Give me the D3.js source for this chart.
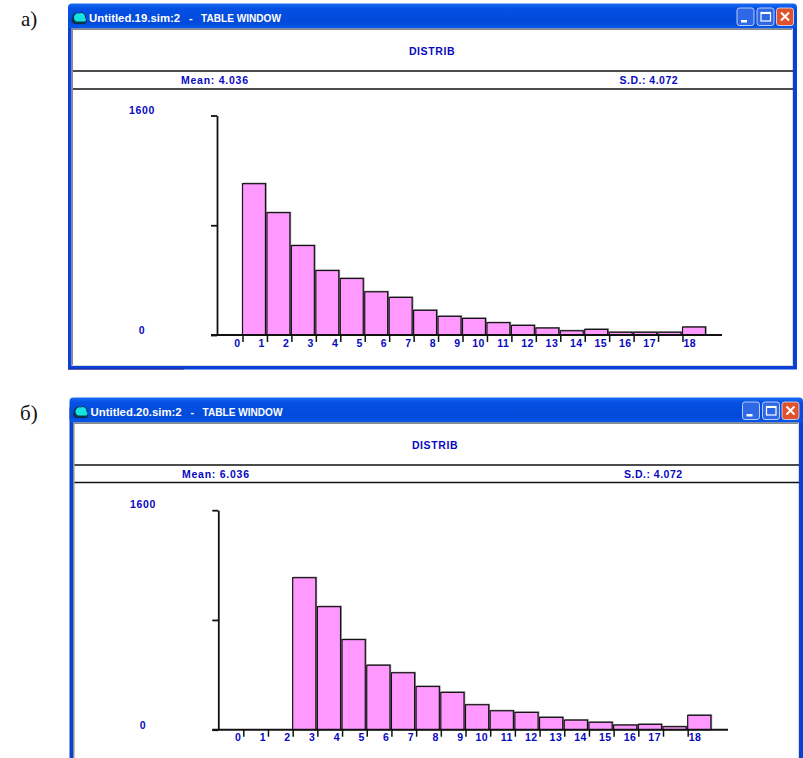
<!DOCTYPE html>
<html>
<head>
<meta charset="utf-8">
<script src="https://d3js.org/d3.v7.min.js"></script>
<style>
html, body { margin: 0; padding: 0; background: #fff; }
svg { display: block; }
</style>
</head>
<body>
<svg id="chart" width="803" height="758"></svg>
<script>
const categories = d3.range(0, 19);
const y_ticks = [0, 800, 1600];
const y_labels = [0, 1600];
const distrib_a = [1103, 892, 652, 470, 412, 315, 274, 180, 136, 121, 90, 70, 51, 31, 41, 20, 20, 20, 58];
const distrib_b = [0, 0, 1108, 897, 657, 470, 415, 315, 272, 182, 138, 126, 90, 70, 54, 34, 39, 22, 105];

const BLUE_TEXT = "#0808c0";
const svg = d3.select("#chart");

let grad = svg.append("defs").append("linearGradient").attr("id", "titlebar").attr("x1", 0).attr("x2", 0).attr("y1", 0).attr("y2", 1);
grad.append("stop").attr("offset", "0%").attr("stop-color", "#1a6cf2");
grad.append("stop").attr("offset", "20%").attr("stop-color", "#0451e4");
grad.append("stop").attr("offset", "75%").attr("stop-color", "#0349da");
grad.append("stop").attr("offset", "100%").attr("stop-color", "#0558ea");

function blue_text(g, x, y, str, anchor, spacing) {
    return g.append("text").attr("x", x).attr("y", y)
        .attr("text-anchor", anchor)
        .attr("font-family", "Liberation Sans").attr("font-weight", "bold").attr("font-size", 10.5)
        .attr("letter-spacing", spacing).attr("fill", BLUE_TEXT).text(str);
}

function draw_window(p) {
    let g = svg.append("g");
    let w = p.right - p.left;

    // window frame and title bar
    g.append("rect").attr("x", p.left).attr("y", p.top + 10).attr("width", w).attr("height", p.bottom - p.top - 6)
        .attr("fill", "#0a3fd8");
    g.append("rect").attr("x", p.left).attr("y", p.top).attr("width", w).attr("height", 25)
        .attr("rx", 4).attr("fill", "url(#titlebar)");
    g.append("rect").attr("x", p.left + 3.5).attr("y", p.top + 25).attr("width", w - 7.5).attr("height", p.bottom - p.top - 24.5)
        .attr("fill", "#dcdcdc");
    g.append("rect").attr("x", p.left + 3.5).attr("y", p.top + 25).attr("width", w - 8.5).attr("height", p.bottom - p.top - 25.5)
        .attr("fill", "#8a8a8a");
    g.append("rect").attr("x", p.left + 5).attr("y", p.top + 26.5).attr("width", w - 10).attr("height", p.bottom - p.top - 27)
        .attr("fill", "#fff");

    // cloud icon
    let cx = p.left + 11;
    let cy = p.top + 15;
    g.append("path")
        .attr("d", `M${cx - 5},${cy + 5}a4,4 0 0 1 -1,-6a4,4 0 0 1 6,-4a4,4 0 0 1 6,5a3,3 0 0 1 0,5z`)
        .attr("fill", "#0a3a48").attr("stroke", "#062a40").attr("stroke-width", 0.8);
    g.append("path")
        .attr("d", `M${cx - 2},${cy + 3}a4,4 0 0 1 -3,-4a4,4 0 0 1 5,-4a4,4 0 0 1 6,4a3,3 0 0 1 0,4z`)
        .attr("fill", "#16e4e4");

    // title, file name runs wider than the rest in the original font
    let title = g.append("text").attr("x", p.left + 21).attr("y", p.top + 18.5)
        .attr("font-family", "Liberation Sans").attr("font-weight", "bold").attr("fill", "#fff").style("white-space", "pre");
    title.append("tspan").attr("font-size", 11.4).text(p.title);
    title.append("tspan").attr("font-size", 11).attr("x", p.left + 121).text("-");
    title.append("tspan").attr("font-size", 10.1).attr("x", p.left + 133).text("TABLE WINDOW");

    // window buttons
    let buttons = [
        {x: p.buttons_x, fill: "#2f68e6", mark: "min"},
        {x: p.buttons_x + 20, fill: "#2f68e6", mark: "max"},
        {x: p.buttons_x + 39.5, fill: "#e0512c", mark: "close"}
    ];
    buttons.forEach(b => {
        let y0 = p.top + 4.5;
        g.append("rect").attr("x", b.x).attr("y", y0).attr("width", 17).attr("height", 17.5).attr("rx", 2.5)
            .attr("fill", b.fill).attr("stroke", "#dfe8fb").attr("stroke-width", 0.8);
        if (b.mark == "min") {
            g.append("rect").attr("x", b.x + 4).attr("y", y0 + 12).attr("width", 6).attr("height", 2.5).attr("fill", "#fff");
        } else if (b.mark == "max") {
            g.append("rect").attr("x", b.x + 4).attr("y", y0 + 4.5).attr("width", 9.5).attr("height", 8.5)
                .attr("fill", "none").attr("stroke", "#fff").attr("stroke-width", 1.2);
            g.append("rect").attr("x", b.x + 4).attr("y", y0 + 4).attr("width", 9.5).attr("height", 2).attr("fill", "#fff");
        } else {
            g.append("path").attr("d", `M${b.x + 4.5},${y0 + 4.5}L${b.x + 12.5},${y0 + 12.5}M${b.x + 12.5},${y0 + 4.5}L${b.x + 4.5},${y0 + 12.5}`)
                .attr("stroke", "#fff").attr("stroke-width", 2);
        }
    });

    // header
    blue_text(g, p.title_x, p.line1 - 16, "DISTRIB", "middle", 0.6);
    [p.line1, p.line2].forEach(y => {
        g.append("line").attr("x1", p.left + 5).attr("x2", p.right - 4).attr("y1", y).attr("y2", y)
            .attr("stroke", "#111").attr("stroke-width", 1.5);
    });
    blue_text(g, p.mean_x, p.line1 + 12.5, p.mean, "start", 0.75);
    blue_text(g, p.sd_x, p.line1 + 12.5, p.sd, "start", 0.5);

    // scales
    let x = d3.scaleLinear().domain([0, 18]).range([p.x0, p.x18]);
    let y = d3.scaleLinear().domain([0, 1600]).range([p.base, p.base - 219.5]);
    let bar_w = x(1) - x(0) - 1.5;

    // bars
    let rows = categories.map((c, i) => ({c: c, v: p.values[i]})).filter(d => d.v > 0);
    g.selectAll("rect.shade").data(rows).enter().append("rect").attr("class", "shade")
        .attr("x", d => x(d.c) + 0.5).attr("y", d => y(d.v) - 1)
        .attr("width", bar_w + 0.8).attr("height", d => p.base - y(d.v) + 1)
        .attr("fill", "#8c8c8c");
    g.selectAll("rect.bar").data(rows).enter().append("rect").attr("class", "bar")
        .attr("x", d => x(d.c)).attr("y", d => y(d.v))
        .attr("width", bar_w).attr("height", d => p.base - y(d.v))
        .attr("fill", "#ff99ff").attr("stroke", "#141414").attr("stroke-width", 1.2);

    // axes
    let y_axis = d3.axisLeft(y).tickValues(y_ticks).tickSize(6).tickSizeOuter(0).tickFormat("");
    let ay = g.append("g").attr("transform", `translate(${p.y_axis_x},0)`).call(y_axis);
    ay.selectAll("line,path").attr("stroke", "#111").attr("stroke-width", 1.8);

    g.append("line").attr("x1", p.y_axis_x - 6).attr("x2", p.axis_end).attr("y1", p.base).attr("y2", p.base)
        .attr("stroke", "#111").attr("stroke-width", 2);

    let x_axis = d3.axisBottom(x).tickValues(categories).tickSize(7).tickSizeOuter(0).tickFormat("");
    let ax = g.append("g").attr("transform", `translate(0,${p.base})`).call(x_axis);
    ax.select("path.domain").remove();
    ax.selectAll("line").attr("stroke", "#111").attr("stroke-width", 1.5);

    // labels sit left of their tick, except the last one
    categories.forEach(d => {
        if (d == 18) blue_text(g, x(d) + 1, p.base + 11.5, d, "start", 0.5);
        else blue_text(g, x(d) - 2, p.base + 11.5, d, "end", 0.5);
    });

    g.selectAll("text.yl").data(y_labels).enter().append("text").attr("class", "yl")
        .attr("x", p.y_label_x)
        .attr("y", d => d == 0 ? y(d) - 1 : y(d) - 2)
        .attr("text-anchor", "middle")
        .attr("font-family", "Liberation Sans").attr("font-weight", "bold").attr("font-size", 10.5)
        .attr("letter-spacing", 0.6).attr("fill", BLUE_TEXT).text(d => d);

    g.append("text").attr("x", p.letter_x).attr("y", p.top + 22)
        .attr("font-family", "Liberation Serif").attr("font-size", 21).attr("fill", "#111").text(p.letter);
}

draw_window({
    left: 68, right: 797, top: 3.5, bottom: 365.5,
    title: "Untitled.19.sim:2", buttons_x: 737,
    title_x: 432, line1: 71, line2: 89,
    mean: "Mean: 4.036", mean_x: 181, sd: "S.D.: 4.072", sd_x: 619.5,
    values: distrib_a, x0: 242.5, x18: 682.5, base: 335, y_axis_x: 217, axis_end: 722, y_label_x: 142,
    letter: "а)", letter_x: 21
});
draw_window({
    left: 69.5, right: 803, top: 397.5, bottom: 790,
    title: "Untitled.20.sim:2", buttons_x: 742.5,
    title_x: 435, line1: 465, line2: 482.5,
    mean: "Mean: 6.036", mean_x: 182, sd: "S.D.: 4.072", sd_x: 624,
    values: distrib_b, x0: 243.3, x18: 687.7, base: 729.7, y_axis_x: 218.3, axis_end: 728, y_label_x: 143,
    letter: "б)", letter_x: 20
});

// leftover dark edge under the first window
svg.append("line").attr("x1", 68).attr("x2", 184).attr("y1", 369).attr("y2", 369)
    .attr("stroke", "#2a2a90").attr("stroke-width", 1);
</script>
</body>
</html>
